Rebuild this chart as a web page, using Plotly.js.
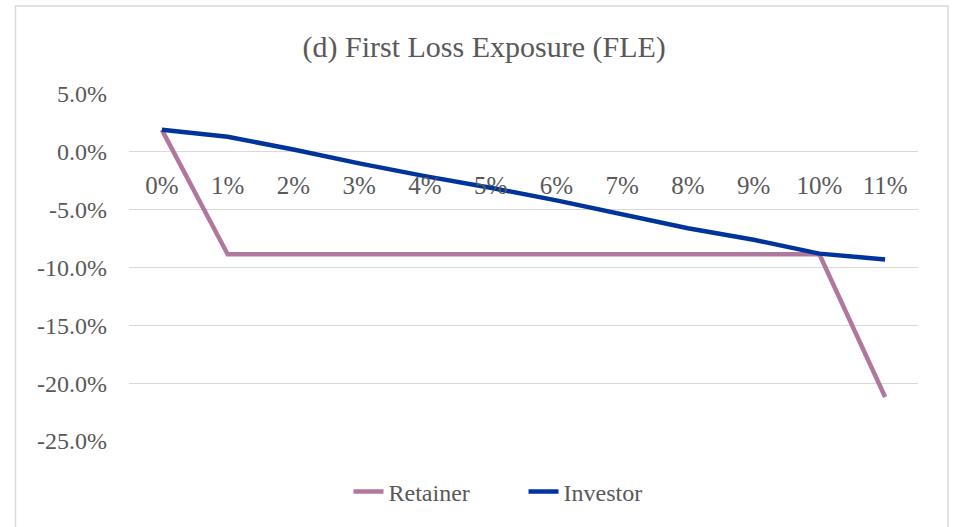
<!DOCTYPE html>
<html>
<head>
<meta charset="utf-8">
<script src="https://cdn.plot.ly/plotly-3.0.1.min.js"></script>
<style>
  html, body { margin: 0; padding: 0; background: #fff; }
  #chart { width: 955px; height: 527px; }
</style>
</head>
<body>
<div id="chart"></div>
<script>
var lossLevels = ['0%', '1%', '2%', '3%', '4%', '5%', '6%', '7%', '8%', '9%', '10%', '11%'];
var retainer = [1.9, -8.85, -8.85, -8.85, -8.85, -8.85, -8.85, -8.85, -8.85, -8.85, -8.85, -21.2];
var investor = [1.9, 1.3, 0.2, -1.0, -2.1, -3.1, -4.2, -5.4, -6.6, -7.6, -8.8, -9.3];
var yTicks = [5, 0, -5, -10, -15, -20, -25];
var yTickLabels = ['5.0%', '0.0%', '-5.0%', '-10.0%', '-15.0%', '-20.0%', '-25.0%'];

var serif = 'Liberation Serif, Cambria, serif';
var grey = '#595959';

var data = [
  {
    x: lossLevels,
    y: retainer,
    name: 'Retainer',
    type: 'scatter',
    mode: 'lines',
    line: { color: '#B0789E', width: 4.5 }
  },
  {
    x: lossLevels,
    y: investor,
    name: 'Investor',
    type: 'scatter',
    mode: 'lines',
    line: { color: '#00349A', width: 4.5 }
  }
];

var layout = {
  width: 955,
  height: 527,
  margin: { l: 129, r: 37, t: 94, b: 86 },
  paper_bgcolor: '#fff',
  plot_bgcolor: '#fff',
  font: { family: serif, color: grey, size: 24 },
  title: {
    text: '(d) First Loss Exposure (FLE)',
    font: { family: serif, size: 30, color: grey },
    xref: 'container',
    yref: 'container',
    x: 0.507,
    y: 0.911,
    xanchor: 'center',
    yanchor: 'middle'
  },
  xaxis: {
    type: 'category',
    range: [-0.5, 11.5],
    anchor: 'free',
    position: 25 / 30,
    showgrid: false,
    zeroline: false,
    showline: false,
    ticks: '',
    ticklabelstandoff: 16,
    tickfont: { family: serif, size: 25, color: grey }
  },
  yaxis: {
    range: [-25, 5],
    tickmode: 'array',
    tickvals: yTicks,
    ticktext: yTickLabels,
    showgrid: true,
    gridcolor: '#D9D9D9',
    gridwidth: 1.3,
    zeroline: false,
    showline: false,
    ticks: '',
    ticklabelstandoff: 21,
    tickfont: { family: serif, size: 24, color: grey }
  },
  showlegend: true,
  legend: {
    orientation: 'h',
    x: 0.5,
    xanchor: 'center',
    y: -0.147,
    yanchor: 'middle',
    font: { family: serif, size: 24, color: grey },
    entrywidthmode: 'pixels',
    entrywidth: 130
  },
  shapes: [
    {
      type: 'rect',
      xref: 'paper',
      yref: 'paper',
      x0: (15.5 - 129) / 789,
      x1: (948 - 129) / 789,
      y0: (441 - 540) / 347,
      y1: 1 + (94 - 6) / 347,
      line: { color: '#D9D9D9', width: 1.5 },
      layer: 'below'
    }
  ]
};

Plotly.newPlot('chart', data, layout, { displayModeBar: false });
</script>
</body>
</html>
